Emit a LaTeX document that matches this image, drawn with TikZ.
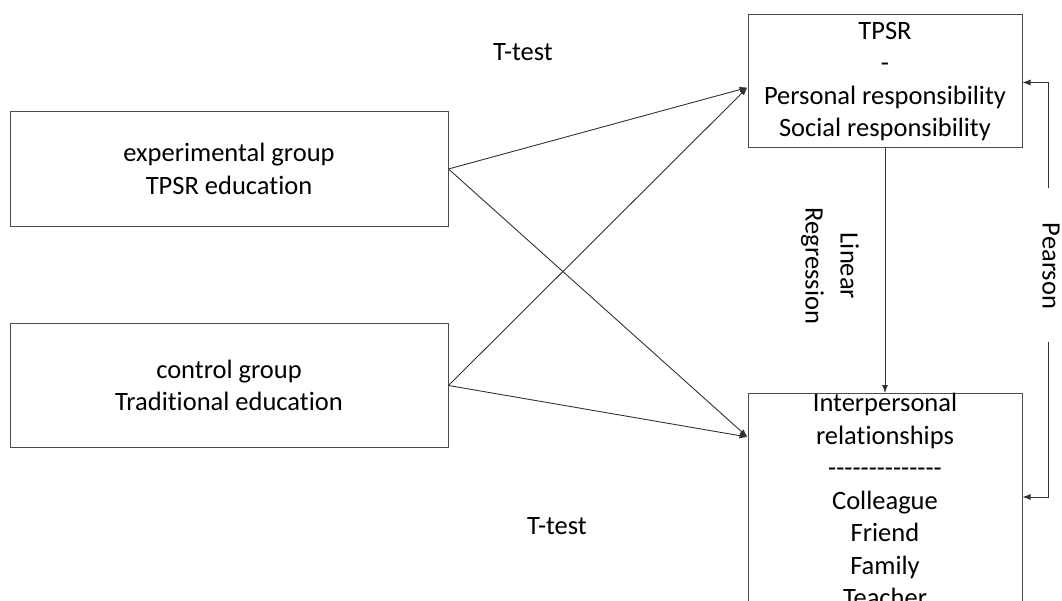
\documentclass[tikz,border=0pt]{standalone}
\usepackage{fontspec}
\setmainfont{Carlito}[Ligatures=CommonOff]
\usetikzlibrary{arrows.meta}

\newcommand{\dashrule}{\foreach \i in {1,...,14}{-\kern0pt}}

\begin{document}
\begin{tikzpicture}
                [x=1pt, y=-1pt,
                  every node/.style={font=\fontsize{26.5}{32.5}\selectfont, align=center},
                  box/.style={draw=black!70, line width=1pt, rectangle},
                  link/.style={draw=black!80, line width=0.9pt, -{Latex[length=8pt,width=6pt]}},
                ]
                \useasboundingbox (0,0) rectangle (1062,601);
                \clip (0,0) rectangle (1062,601);
                % groups
                \node [box, minimum width=438, minimum height=115] (expgroup) at (229,169)
                  {experimental group\\TPSR education};
                \node [box, minimum width=438, minimum height=123] (ctrlgroup) at (229,385.5)
                  {control group\\Traditional education};
                % outcomes
                \node [box, minimum width=274, minimum height=133] (tpsr) at (885,81.5)
                  {TPSR\\-\\Personal responsibility\\Social responsibility};
                \node [box, minimum width=274, inner ysep=0pt, anchor=north] (inter) at (885,393)
                  {Interpersonal\\relationships\\\dashrule\\Colleague\\Friend\\Family\\Teacher\\};
                % t-tests
                \draw [link] (expgroup.east) -- ([yshift=-6pt]tpsr.west);
                \draw [link] (expgroup.east) -- ([yshift=-44pt]inter.north west);
                \draw [link] (ctrlgroup.east) -- ([yshift=-6pt]tpsr.west);
                \draw [link] (ctrlgroup.east) -- ([yshift=-44pt]inter.north west);
                \node (ttest1) at (523,52) {T-test};
                \node (ttest2) at (557,526) {T-test};
                % regression
                \draw [link] (tpsr.south) -- (inter.north);
                \node [rotate=-90, font=\fontsize{26.5}{35}\selectfont] (regr) at (830,266) {Linear\\Regression};
                % pearson
                \coordinate (pearsontop) at (1048,188);
                \coordinate (pearsonbot) at (1048,342);
                \node [rotate=-90] (pearson) at (1051,266) {Pearson};
                \draw [link] (pearsontop) |- ([yshift=-1pt]tpsr.east);
                \draw [link] (pearsonbot) |- ([yshift=-104pt]inter.north east);
            \end{tikzpicture}
\end{document}
